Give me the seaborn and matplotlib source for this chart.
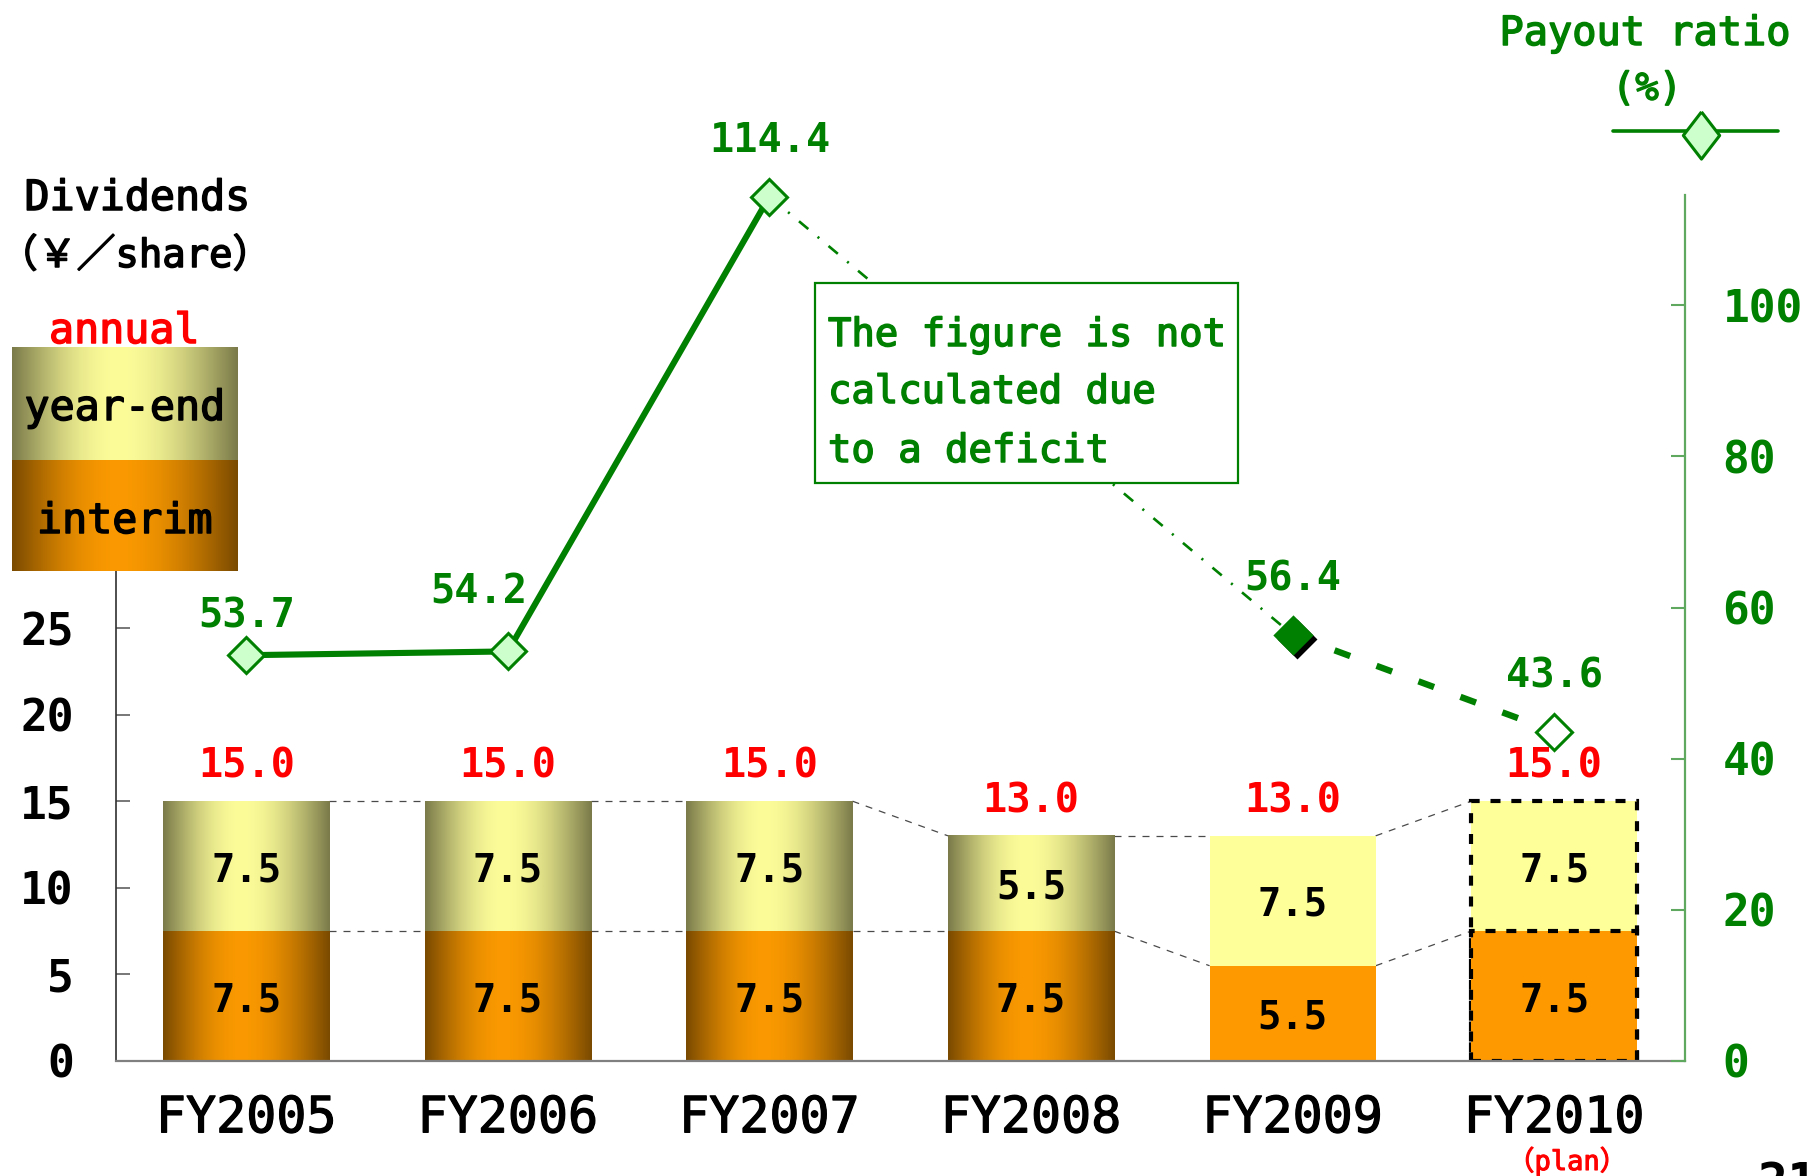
import numpy as np
import pandas as pd
import matplotlib
matplotlib.use("Agg")
import matplotlib.pyplot as plt
import matplotlib.patheffects as pe
import seaborn as sns
from matplotlib.patches import Rectangle
from matplotlib.lines import Line2D
from matplotlib.transforms import ScaledTranslation, blended_transform_factory

# ---- data -----------------------------------------------------------------
fiscal_years = ["FY2005", "FY2006", "FY2007", "FY2008", "FY2009", "FY2010"]
interim_dividend = [7.5, 7.5, 7.5, 7.5, 5.5, 7.5]
year_end_dividend = [7.5, 7.5, 7.5, 5.5, 7.5, 7.5]
payout_ratio = [53.7, 54.2, 114.4, np.nan, 56.4, 43.6]
is_plan = [False, False, False, False, False, True]
left_ticks = [0, 5, 10, 15, 20, 25]
right_ticks = [0, 20, 40, 60, 80, 100]

# ---- styling ----------------------------------------------------------------
shaded_bar = [True, True, True, True, False, False]
marker_face = ["#ccffcc", "#ccffcc", "#ccffcc", None, "#008000", "white"]
marker_shadow = [False, False, False, False, True, False]

W, H, DPI = 1820, 1176, 100
GREEN = "#008000"
AXIS_GREEN = "#5fa85f"
RED = "#ff0000"
YE_FLAT, IN_FLAT = "#ffff99", "#ff9900"
YE_DARK, YE_LIGHT = np.array([122, 122, 74]) / 255, np.array([252, 252, 153]) / 255
IN_DARK, IN_LIGHT = np.array([122, 74, 0]) / 255, np.array([250, 153, 0]) / 255

sns.set_style("white")
FONT = ["DejaVu Sans Mono", "Noto Sans CJK JP"]
plt.rcParams["font.family"] = FONT
plt.rcParams["font.weight"] = "normal"
plt.rcParams["text.color"] = "black"


def medium(color, width=1.1):
    """Slightly heavier strokes than the regular face."""
    return [pe.withStroke(linewidth=width, foreground=color)]


def fx(px):
    return px / W


def fy(py):
    return 1 - py / H


def cylinder(dark, light, n=256, peak=0.47):
    t = np.linspace(0, 1, n)
    u = np.where(t < peak, (peak - t) / peak, (t - peak) / (1 - peak))
    f = np.cos(u * np.pi / 2)
    rgb = dark + (light - dark) * f[:, None]
    return np.clip(rgb[None, :, :], 0, 1)


fig = plt.figure(figsize=(W / DPI, H / DPI), dpi=DPI)
fig.patch.set_facecolor("white")
ax = fig.add_axes([fx(115.5), fy(1061), fx(1685) - fx(115.5), fy(195) - fy(1061)])

df = pd.DataFrame({"year": fiscal_years,
                   "interim": interim_dividend,
                   "year_end": year_end_dividend})
df["total"] = df["interim"] + df["year_end"]

BAR_W = 0.635
sns.barplot(data=df, x="year", y="total", color=YE_FLAT, saturation=1,
            width=BAR_W, errorbar=None, ax=ax, linewidth=0, zorder=2)
sns.barplot(data=df, x="year", y="interim", color=IN_FLAT, saturation=1,
            width=BAR_W, errorbar=None, ax=ax, linewidth=0, zorder=2)
total_bars = list(ax.containers[0])
interim_bars = list(ax.containers[1])

ye_grad = cylinder(YE_DARK, YE_LIGHT)
in_grad = cylinder(IN_DARK, IN_LIGHT)
for i, (pt, pi) in enumerate(zip(total_bars, interim_bars)):
    x0, x1 = pt.get_x(), pt.get_x() + pt.get_width()
    tot, inte = df["total"][i], df["interim"][i]
    if shaded_bar[i]:
        pt.set_visible(False)
        pi.set_visible(False)
        ax.imshow(ye_grad, extent=(x0, x1, inte, tot), aspect="auto",
                  interpolation="bilinear", zorder=2.1)
        ax.imshow(in_grad, extent=(x0, x1, 0, inte), aspect="auto",
                  interpolation="bilinear", zorder=2.1)
    if is_plan[i]:
        for p in (pt, pi):
            p.set_edgecolor("black")
            p.set_linewidth(3.0)
            p.set_linestyle((0, (2.4, 2.6)))
        pt.set_zorder(2.2)
        pi.set_zorder(2.3)
    # segment values
    xc = (x0 + x1) / 2
    ax.text(xc, inte / 2, f"{inte:.1f}", ha="center", va="center_baseline",
            fontsize=28, fontweight="bold", color="black", zorder=4)
    ax.text(xc, inte + df["year_end"][i] / 2, f"{df['year_end'][i]:.1f}",
            ha="center", va="center_baseline", fontsize=28, fontweight="bold",
            color="black", zorder=4)
    ax.annotate(f"{tot:.1f}", (xc, tot), xytext=(0, 17), textcoords="offset points",
                ha="center", va="baseline", fontsize=29, fontweight="bold",
                color=RED, zorder=4)

# dashed connectors between neighbouring bars
for level in (df["interim"].values, df["total"].values):
    for i in range(len(fiscal_years) - 1):
        p, q = total_bars[i], total_bars[i + 1]
        ax.plot([p.get_x() + p.get_width(), q.get_x()], [level[i], level[i + 1]],
                color="#4a4a4a", lw=0.9, ls=(0, (5.6, 5.6)), zorder=1)

ax.set_xlim(-0.5, len(fiscal_years) - 0.5)
ax.set_ylim(0, 50)
ax.set_xlabel("")
ax.set_ylabel("")
ax.set_yticks(left_ticks)
ax.tick_params(axis="y", direction="in", length=10, width=1.2, color="#606060",
               labelsize=32, pad=30, labelcolor="black")
for lab in ax.get_yticklabels():
    lab.set_fontweight("bold")
ax.set_xticks(range(len(fiscal_years)), labels=fiscal_years)
ax.set_xticks(np.arange(0.5, len(fiscal_years) - 1, 1), minor=True)
ax.tick_params(axis="x", which="major", length=0, labelsize=36, pad=24,
               labelcolor="black")
ax.tick_params(axis="x", which="minor", direction="in", length=11, width=1.2,
               color="#606060")
for lab in ax.get_xticklabels():
    lab.set_path_effects(medium("black", 0.9))
for s in ("top", "right"):
    ax.spines[s].set_visible(False)
ax.spines["left"].set_color("#303030")
ax.spines["left"].set_linewidth(1.2)
ax.spines["left"].set_bounds(0, 28.3)
ax.spines["bottom"].set_color("#808080")
ax.spines["bottom"].set_linewidth(1.6)
ax.spines["bottom"].set_zorder(5)

# ---- payout ratio on the secondary axis ---------------------------------------
ax2 = ax.twinx()
ratio = np.array(payout_ratio, dtype=float)
pos = np.arange(len(fiscal_years))
valid = np.flatnonzero(~np.isnan(ratio))
for a, b in zip(valid[:-1], valid[1:]):
    xs, ys = pos[[a, b]], ratio[[a, b]]
    if is_plan[b]:
        ax2.plot(xs, ys, color=GREEN, lw=4.6, ls=(0, (2.6, 4.4)),
                 solid_capstyle="butt", zorder=3)
    elif b - a > 1:
        ax2.plot(xs, ys, color=GREEN, lw=1.9, ls=(0, (4.6, 4.6, 0.8, 4.6)), zorder=3)
    else:
        sns.lineplot(x=xs, y=ys, ax=ax2, color=GREEN, lw=4.4, zorder=3,
                     solid_capstyle="round")

shadow_tr = ax2.transData + ScaledTranslation(3 / 72, -3 / 72, fig.dpi_scale_trans)
for i in valid:
    if marker_shadow[i]:
        ax2.plot(pos[i], ratio[i], marker="D", ms=18.5, mfc="black", mec="black",
                 mew=2, transform=shadow_tr, zorder=4, clip_on=False)
    ax2.plot(pos[i], ratio[i], marker="D", ms=18.5, mfc=marker_face[i], mec=GREEN,
             mew=2.2, zorder=5, clip_on=False)

label_offset = {0: (0, 31), 1: (-21, 46)}
for i in valid:
    dx, dy = label_offset.get(i, (0, 43))
    ax2.annotate(f"{ratio[i]:.1f}", (pos[i], ratio[i]), xytext=(dx, dy),
                 textcoords="offset points", ha="center", va="center_baseline",
                 fontsize=29, fontweight="bold", color=GREEN, zorder=6,
                 annotation_clip=False)

ax2.set_ylim(0, 114.6)
ax2.set_xlim(-0.5, len(fiscal_years) - 0.5)
ax2.set_ylabel("")
ax2.set_yticks(right_ticks)
ax2.tick_params(axis="y", direction="in", length=10, width=1.5, color=AXIS_GREEN,
                labelsize=32, pad=27, labelcolor=GREEN)
for lab in ax2.get_yticklabels():
    lab.set_fontweight("bold")
for s in ("top", "left", "bottom"):
    ax2.spines[s].set_visible(False)
ax2.spines["right"].set_color(AXIS_GREEN)
ax2.spines["right"].set_linewidth(1.6)

# ---- titles and keys -----------------------------------------------------------
fig.text(fx(137), fy(210), "Dividends", ha="center", va="baseline", fontsize=30,
         color="black", path_effects=medium("black"))
fig.text(fx(135), fy(267), "（￥／share）", ha="center", va="baseline", fontsize=28,
         color="black", path_effects=medium("black"))
fig.text(fx(124), fy(343), "annual", ha="center", va="baseline", fontsize=30,
         color=RED, path_effects=medium(RED))

for (top, bottom, grad, label, base) in (
        (347, 460, ye_grad, "year-end", 420),
        (460, 571, in_grad, "interim", 533)):
    kax = fig.add_axes([fx(12), fy(bottom), fx(237) - fx(12), fy(top) - fy(bottom)])
    kax.imshow(grad, aspect="auto", interpolation="bilinear", extent=(0, 1, 0, 1))
    kax.set_axis_off()
    fig.text(fx(124.5), fy(base), label, ha="center", va="baseline", fontsize=30,
             color="black", zorder=10, path_effects=medium("black"))

fig.text(fx(1645), fy(45), "Payout ratio", ha="center", va="baseline", fontsize=29,
         color=GREEN, path_effects=medium(GREEN))
fig.text(fx(1647), fy(100), "(%)", ha="center", va="baseline", fontsize=28,
         color=GREEN, path_effects=medium(GREEN))
fig.add_artist(Line2D([fx(1613), fx(1778)], [fy(131), fy(131)],
                      transform=fig.transFigure, color=GREEN, lw=2.6))
tall_diamond = [(0, 1), (0.77, 0), (0, -1), (-0.77, 0), (0, 1)]
fig.add_artist(Line2D([fx(1701)], [fy(135)], transform=fig.transFigure,
                      marker=tall_diamond, ms=34, mfc="#ccffcc", mec=GREEN, mew=2.2,
                      lw=0))

# note box over the missing FY2008 ratio
fig.add_artist(Rectangle((fx(815), fy(483)), fx(1238) - fx(815), fy(283) - fy(483),
                         transform=fig.transFigure, facecolor="white",
                         edgecolor=GREEN, lw=1.6, zorder=8))
for txt, base in (("The figure is not", 346), ("calculated due", 403),
                  ("to a deficit", 462)):
    fig.text(fx(828), fy(base), txt, ha="left", va="baseline", fontsize=28,
             color=GREEN, zorder=9, path_effects=medium(GREEN))

fig.text(0, 0, "（plan）", ha="center", va="baseline", fontsize=19.5, color=RED,
         transform=blended_transform_factory(ax.transData, fig.transFigure),
         position=(pos[-1] + 0.05, fy(1170)), path_effects=medium(RED, 0.8))
fig.text(fx(1757), fy(1198), "21", ha="left", va="baseline", fontsize=36,
         fontweight="bold", color="black")

fig.savefig("out.png", dpi=DPI, facecolor="white")
